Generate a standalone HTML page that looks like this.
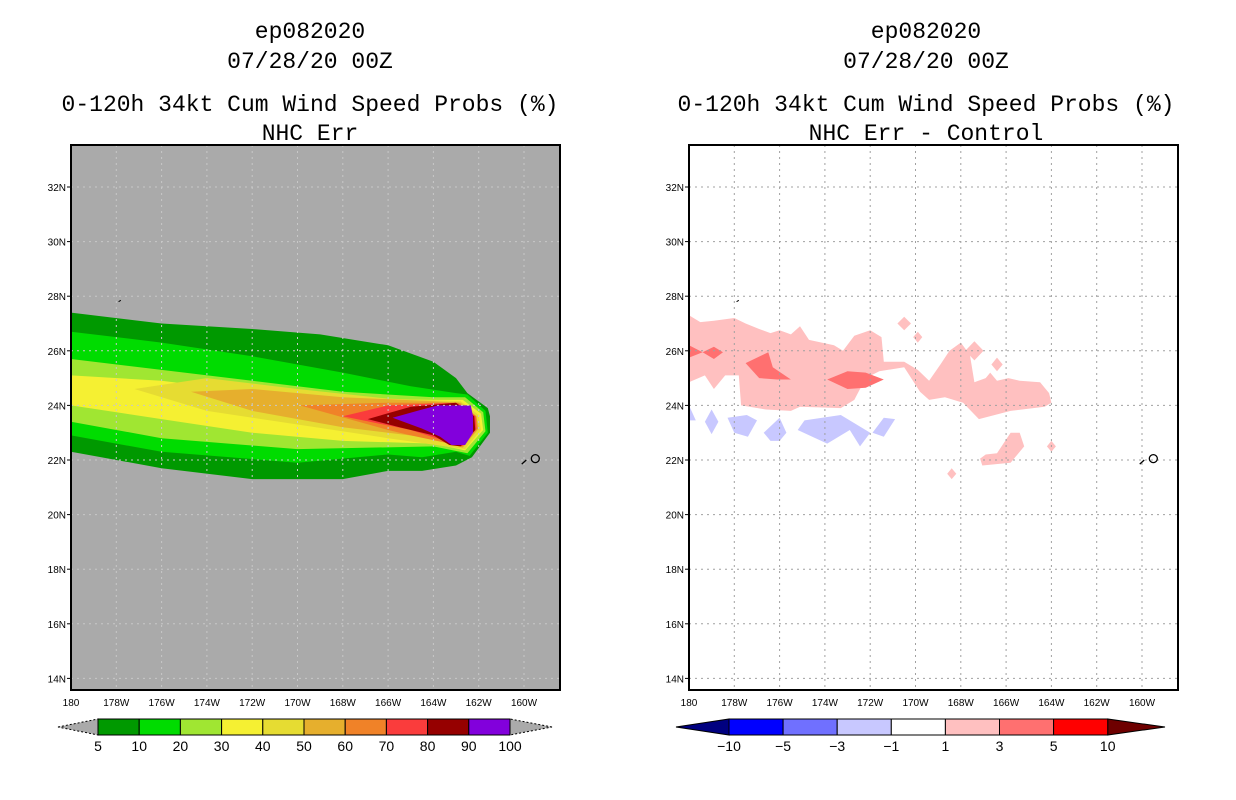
<!DOCTYPE html>
<html><head><meta charset="utf-8"><style>
body{margin:0;background:#fff;width:1236px;height:800px;overflow:hidden}
svg{display:block}
text{font-family:"Liberation Sans",sans-serif}
.ttl text{font-family:"Liberation Mono",monospace}
</style></head><body>
<svg id="s" width="1236" height="800" xmlns="http://www.w3.org/2000/svg">
<g class="ttl" font-size="23" text-anchor="middle" fill="#000">
<text x="310" y="38">ep082020</text><text x="310" y="68">07/28/20 00Z</text>
<text x="310" y="111">0-120h 34kt Cum Wind Speed Probs (%)</text><text x="310" y="140">NHC Err</text></g>
<g class="ttl" font-size="23" text-anchor="middle" fill="#000">
<text x="926" y="38">ep082020</text><text x="926" y="68">07/28/20 00Z</text>
<text x="926" y="111">0-120h 34kt Cum Wind Speed Probs (%)</text><text x="926" y="140">NHC Err - Control</text></g>
<g id="L"></g>
<g id="R"></g>
<g id="CB"></g>
</svg>
<script>
const lonTicks=[180,178,176,174,172,170,168,166,164,162,160];
const latTicks=[32,30,28,26,24,22,20,18,16,14];
const probLevels=[5,10,20,30,40,50,60,70,80,90];
const probColors=["#009900","#00dc00","#a0e632","#f5f032","#e6dc32","#e6af2d","#f08228","#fa3c3c","#960000","#8200dc"];
const probPolys=[
[[180,27.4],[176,27.0],[172,26.8],[169,26.6],[166,26.2],[164,25.6],[163,25.0],[162.5,24.45],[161.6,23.9],[161.5,23.6],[161.5,23.0],[162.3,22.1],[163,21.8],[164.5,21.6],[166,21.6],[168,21.3],[172,21.3],[176,21.7],[180,22.3]],
[[180,26.7],[176,26.3],[172,25.8],[168,25.2],[165,24.7],[163,24.45],[162.5,24.4],[161.7,23.8],[161.6,23.0],[162.4,22.15],[163,22.3],[164.5,22.1],[166,22.2],[170,21.9],[176,22.3],[180,22.9]],
[[180,25.7],[176,25.3],[172,24.9],[168,24.5],[164,24.3],[162.6,24.3],[161.8,23.75],[161.7,23.05],[162.5,22.25],[164,22.5],[170,22.4],[176,22.8],[180,23.4]],
[[180,25.1],[176,24.9],[172,24.5],[168,24.25],[164,24.2],[162.7,24.2],[161.9,23.7],[161.8,23.1],[162.6,22.35],[164,22.6],[168,22.7],[172,23.0],[176,23.5],[180,24.0]],
[[177.2,24.6],[174,25.0],[170,24.6],[166,24.25],[162.8,24.15],[162,23.65],[161.9,23.1],[162.6,22.4],[166,22.8],[170,23.3],[174,23.8]],
[[174.7,24.5],[172,24.6],[168,24.3],[164,24.15],[162.8,24.1],[162.1,23.6],[162.0,23.15],[162.7,22.45],[164,22.8],[168,23.2],[172,23.8]],
[[169.9,24.0],[166,24.1],[162.9,24.1],[162.1,23.6],[162.05,23.15],[162.7,22.5],[165,22.9],[166,23.1]],
[[168.0,23.6],[166,24.0],[163,24.1],[162.15,23.6],[162.1,23.15],[162.75,22.5],[163.5,22.7],[165,23.1]],
[[166.9,23.5],[165,23.95],[163,24.1],[162.2,23.6],[162.15,23.1],[162.8,22.5],[163.3,22.55],[164,22.9],[165.5,23.2]],
[[165.8,23.55],[164.5,23.85],[163.8,24.0],[162.35,24.0],[162.25,23.6],[162.25,23.0],[162.6,22.55],[163.2,22.55],[163.7,22.85],[164.5,23.15]]
];
const diffLabels=["-10","-5","-3","-1","1","3","5","10"];
const diffColors=["#000080","#0000ff","#7070ff","#c8c8ff","#ffffff","#ffc0c0","#ff7070","#ff0000","#6e0000"];
const pinkPolys=[
[[180,27.3],[179.5,27.05],[178.9,27.1],[178,27.2],[177.5,27.0],[176.9,26.8],[176.4,26.65],[176,26.75],[175.5,26.6],[175.1,26.9],[174.7,26.4],[173.6,26.2],[173.2,26.0],[172.7,26.55],[172,26.75],[171.5,26.5],[171.4,25.6],[170.5,25.6],[169.9,25.3],[169.4,24.9],[168.9,25.5],[168.5,26.0],[168,26.3],[167.6,25.85],[167.4,24.85],[166.9,25.0],[166.7,25.2],[166.4,24.9],[165.9,25.0],[165.4,24.9],[164.5,24.85],[164.1,24.45],[164,24.1],[164.3,23.95],[165.8,23.8],[167.2,23.5],[167.9,24.1],[168.7,24.3],[169.4,24.2],[169.8,24.5],[170.5,25.4],[171.6,25.25],[172.2,25.0],[172.7,24.2],[173.3,23.9],[175.1,23.95],[175.5,23.8],[176.6,23.85],[177.7,24.0],[177.8,25.1],[178.4,25.1],[178.9,24.6],[179.3,25.1],[180,24.85]],
[[170.8,27.0],[170.5,27.25],[170.2,27.0],[170.5,26.75]],
[[170.1,26.5],[169.9,26.7],[169.7,26.5],[169.9,26.3]],
[[167.8,26.0],[167.4,26.35],[167.0,26.0],[167.4,25.65]],
[[166.65,25.5],[166.4,25.75],[166.15,25.5],[166.4,25.25]],
[[164.2,22.5],[164.0,22.7],[163.8,22.5],[164.0,22.3]],
[[168.6,21.5],[168.4,21.7],[168.2,21.5],[168.4,21.3]],
[[167.15,22.05],[166.9,22.2],[166.4,22.25],[165.8,23.0],[165.4,23.0],[165.2,22.5],[165.8,21.9],[167.05,21.8]]
];
const redPolys=[
[[180,26.2],[179.4,25.95],[178.9,26.15],[178.5,25.95],[178.9,25.7],[179.4,25.95],[180,25.75]],
[[177.5,25.55],[176.5,25.95],[176.3,25.4],[175.5,24.95],[176.1,24.95],[176.9,25.0]],
[[173.9,24.95],[173,25.25],[172.2,25.2],[171.4,24.95],[172.2,24.65],[173,24.6]]
];
const bluePolys=[
[[180,24.0],[179.7,23.45],[180,23.45]],
[[179.3,23.4],[179.0,23.85],[178.7,23.4],[179.0,22.95]],
[[178.3,23.55],[177.45,23.65],[177.0,23.45],[177.4,22.85],[178.0,23.0]],
[[176.7,23.0],[176.0,23.55],[175.7,23.0],[176.0,22.7],[176.4,22.7]],
[[175.2,23.1],[174.9,23.45],[173.3,23.65],[172.0,23.0],[172.45,22.5],[172.9,23.1],[173.9,22.6]],
[[171.9,23.0],[171.4,23.55],[170.9,23.5],[171.4,22.85]]
];
const NS="http://www.w3.org/2000/svg";
function mk(p,t,a){const e=document.createElementNS(NS,t);for(const k in a)e.setAttribute(k,a[k]);p.appendChild(e);return e;}
function panel(g,x0,bg,grid){
  const X=w=>x0+(180-w)*22.65, Y=l=>187+(32-l)*27.3;
  const r=mk(g,'rect',{x:x0,y:145,width:489,height:545,fill:bg});
  
  const pts=p=>p.map(q=>X(q[0]).toFixed(1)+','+Y(q[1]).toFixed(1)).join(' ');
  return {X,Y,pts,grid};
}
function axes(g,P,x0){
  const {X,Y}=P;
  lonTicks.forEach(w=>{const l=mk(g,'line',{x1:X(w),x2:X(w),y1:145,y2:690,stroke:P.grid,'stroke-dasharray':'2,4'});
    
    const t=mk(g,'text',{x:X(w),y:706,'font-size':10,'text-anchor':'middle'});t.textContent=w==180?'180':w+'W';
    });
  latTicks.forEach(a=>{const l=mk(g,'line',{x1:x0,x2:x0+489,y1:Y(a),y2:Y(a),stroke:P.grid,'stroke-dasharray':'2,4'});
    
    mk(g,'line',{x1:x0-4,x2:x0,y1:Y(a),y2:Y(a),stroke:'#000'});
    const t=mk(g,'text',{x:x0-5,y:Y(a)+4,'font-size':10,'text-anchor':'end'});t.textContent=a+'N';
    });
  mk(g,'circle',{cx:X(159.5),cy:Y(22.05),r:4,fill:'none',stroke:'#000','stroke-width':1.3});
  mk(g,'line',{x1:X(160.1),y1:Y(21.85),x2:X(159.9),y2:Y(22.0),stroke:'#000','stroke-width':1.3});
  mk(g,'line',{x1:X(177.9),y1:Y(27.8),x2:X(177.8),y2:Y(27.85),stroke:'#000'});
  const f=mk(g,'rect',{x:x0,y:145,width:489,height:545,fill:'none',stroke:'#000','stroke-width':2});
  
}
const L=document.getElementById('L');
const PL=panel(L,71,'#aaaaaa','#c8c8c8');
probPolys.forEach((p,i)=>{const e=mk(L,'polygon',{points:PL.pts(p),fill:probColors[i]});
  
  });
axes(L,PL,71);
const R=document.getElementById('R');
const PR=panel(R,689,'#ffffff','#a0a0a0');
pinkPolys.forEach(p=>{const e=mk(R,'polygon',{points:PR.pts(p),fill:diffColors[5]});
  
  });
redPolys.forEach(p=>{const e=mk(R,'polygon',{points:PR.pts(p),fill:diffColors[6]});
  
  });
bluePolys.forEach(p=>{const e=mk(R,'polygon',{points:PR.pts(p),fill:diffColors[3]});
  
  });
axes(R,PR,689);
const CB=document.getElementById('CB');
(function(){const x0=98,w=41.2,y=719,h=16;
  mk(CB,'polygon',{points:`58,727 ${x0},${y} ${x0},${y+h}`,fill:'#aaaaaa',stroke:'#000','stroke-dasharray':'2,2'});
  mk(CB,'polygon',{points:`552,727 ${x0+10*w},${y} ${x0+10*w},${y+h}`,fill:'#aaaaaa',stroke:'#000','stroke-dasharray':'2,2'});
  probColors.forEach((c,i)=>{const r=mk(CB,'rect',{x:x0+i*w,y,width:w,height:h,fill:c,stroke:'#000'});
    });
  probLevels.concat([100]).forEach((v,i)=>{const t=mk(CB,'text',{x:x0+i*w,y:751,'font-size':14,'text-anchor':'middle'});t.textContent=v;
    });
})();
(function(){const x0=729,w=54.1,y=719,h=16;
  mk(CB,'polygon',{points:`676,727 ${x0},${y} ${x0},${y+h}`,fill:diffColors[0],stroke:'#000'});
  mk(CB,'polygon',{points:`1165,727 ${x0+7*w},${y} ${x0+7*w},${y+h}`,fill:diffColors[8],stroke:'#000'});
  diffColors.slice(1,8).forEach((c,i)=>{const r=mk(CB,'rect',{x:x0+i*w,y,width:w,height:h,fill:c,stroke:'#000'});
    });
  diffLabels.forEach((v,i)=>{const t=mk(CB,'text',{x:x0+i*w,y:751,'font-size':14,'text-anchor':'middle'});t.textContent=v.replace('-','−');
    });
})();
</script>
</body></html>
